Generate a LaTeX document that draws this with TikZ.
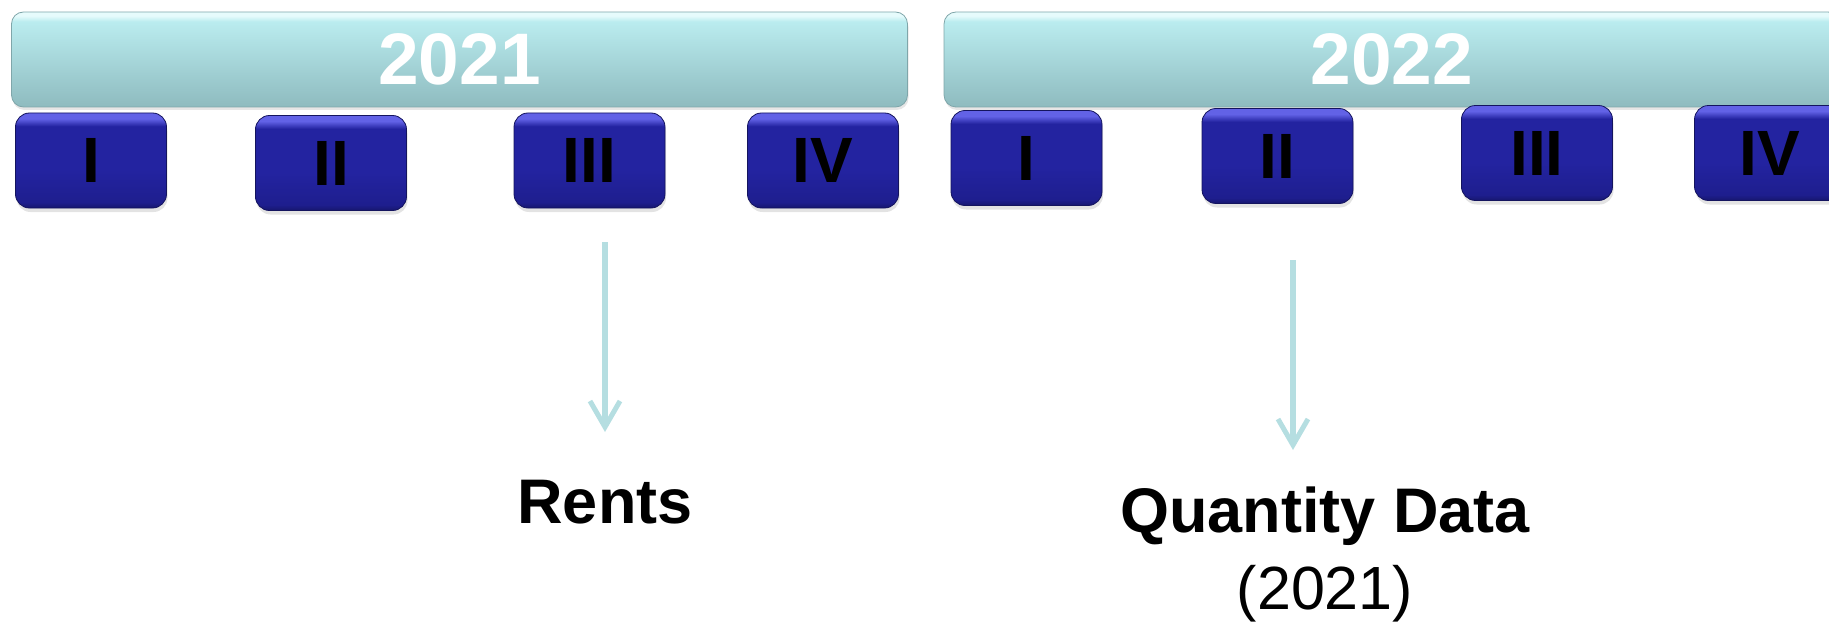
\documentclass[tikz,border=0pt]{standalone}
\usepackage{fontspec}
\setmainfont{Liberation Sans}
\usetikzlibrary{shadows,arrows.meta}
\definecolor{barTop}{HTML}{E6FBFC}
\definecolor{barHi}{HTML}{BAECEF}
\definecolor{barBot}{HTML}{8EBBBF}
\definecolor{barEdge}{HTML}{7FA6AA}
\definecolor{qTop}{HTML}{6262E6}
\definecolor{qMid}{HTML}{2323A0}
\definecolor{qLow}{HTML}{1E1E8E}
\definecolor{qBot}{HTML}{16166E}
\definecolor{qEdge}{HTML}{14145E}
\definecolor{arrcol}{HTML}{B5DEE1}
\pgfdeclareverticalshading{barshade}{100bp}{color(0bp)=(barBot); color(25bp)=(barBot); color(70bp)=(barHi); color(73bp)=(barTop); color(75bp)=(barTop); color(100bp)=(barTop)}
\pgfdeclareverticalshading{qshade}{100bp}{color(0bp)=(qBot); color(25bp)=(qBot); color(28bp)=(qLow); color(45bp)=(qMid); color(68bp)=(qMid); color(72bp)=(qTop); color(75bp)=(qTop); color(100bp)=(qTop)}
\begin{document}
\begin{tikzpicture}[x=1pt,y=-1pt,
  yearbar/.style={rounded corners=12pt, draw=barEdge, line width=0.8pt,
    shading=barshade,
    minimum width=896pt, minimum height=95pt, inner sep=0pt,
    text=white, font=\bfseries\fontsize{73}{73}\selectfont,
    drop shadow={opacity=0.2, shadow xshift=1pt, shadow yshift=-3pt}},
  qbox/.style={rounded corners=14pt, draw=qEdge, line width=0.8pt,
    shading=qshade,
    minimum width=151pt, minimum height=95pt, inner sep=0pt,
    text=black, font=\bfseries\fontsize{64}{64}\selectfont,
    drop shadow={opacity=0.22, shadow xshift=1pt, shadow yshift=-4pt}},
  arr/.style={draw=arrcol, line width=5.5pt,
    -{Straight Barb[length=26pt, width=30pt, line width=5pt]}},
  lbl/.style={text=black, inner sep=0pt, font=\bfseries\fontsize{63}{63}\selectfont},
  sub/.style={text=black, inner sep=0pt, font=\fontsize{61}{61}\selectfont}
]
\useasboundingbox (0,0) rectangle (1829,623);

% year bars
\node[yearbar] (y21) at (459.5,59.5) {\raisebox{-4pt}{2021}};
\node[yearbar] (y22) at (1392,59.5) {\raisebox{-4pt}{2022}};

% quarters 2021
\node[qbox] (q21a) at (91,160.5) {I};
\node[qbox] (q21b) at (331,163) {II};
\node[qbox] (q21c) at (589.5,160.5) {III};
\node[qbox] (q21d) at (823,160.5) {IV};

% quarters 2022
\node[qbox] (q22a) at (1026.5,158) {I};
\node[qbox] (q22b) at (1277.5,156) {II};
\node[qbox] (q22c) at (1537,153) {III};
\node[qbox] (q22d) at (1770,153) {IV};

% labels
\node[lbl] (rents) at (605,502) {Rents};
\node[lbl, anchor=base] (qty) at (1325,532) {Quantity Data};
\node[sub, anchor=base] (qyr) at (1325,609) {(2021)};

% arrows
\coordinate (a1s) at (605,242);
\coordinate (a1e) at (605,432);
\coordinate (a2s) at (1293,260);
\coordinate (a2e) at (1293,450);
\draw[arr] (a1s) -- (a1e);
\draw[arr] (a2s) -- (a2e);
\end{tikzpicture}
\end{document}
